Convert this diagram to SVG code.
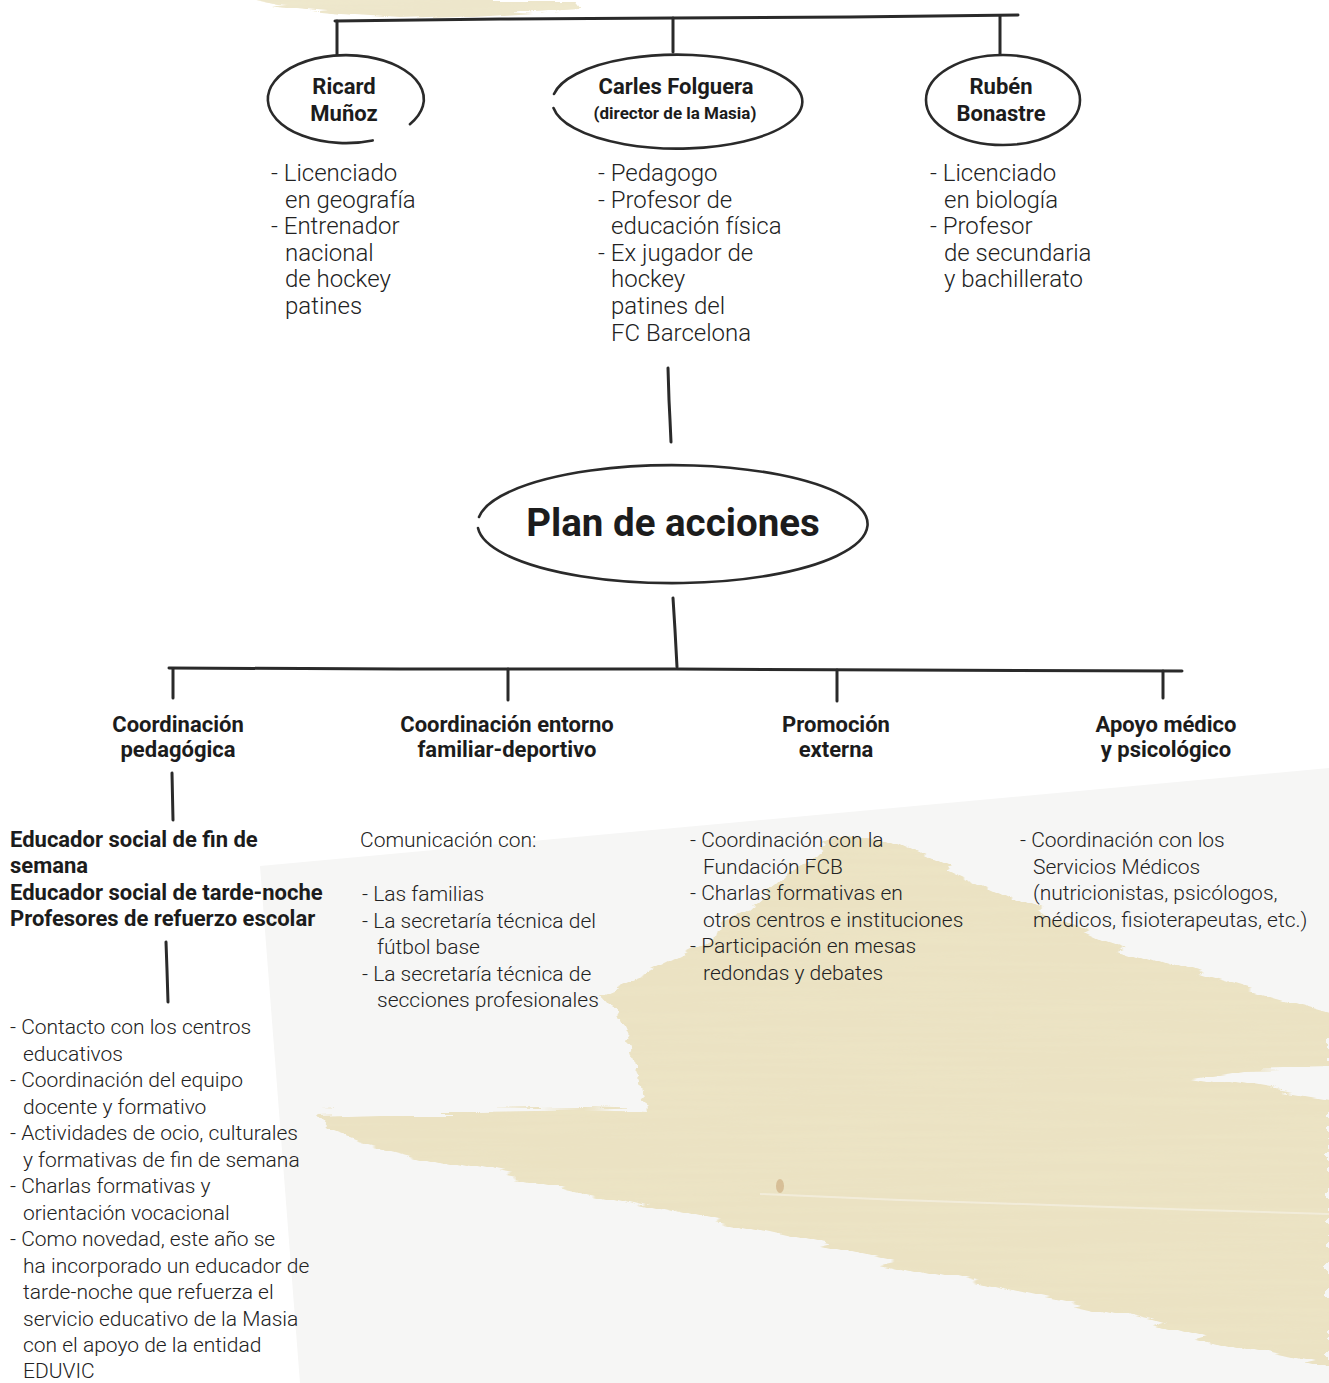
<svg xmlns="http://www.w3.org/2000/svg" width="1329" height="1383" viewBox="0 0 1329 1383">
<style>
.bg{fill:#ffffff}
.grey{fill:#f6f6f5}
.tan{fill:#ebe2c3}
.line{fill:none;stroke:#2a2a2a;stroke-width:3;stroke-linecap:round;stroke-linejoin:round}
.ell{fill:#ffffff;stroke:#2a2a2a;stroke-width:2.6;stroke-linecap:round}
.b{font-family:Roboto,"Liberation Sans",sans-serif;font-weight:700;font-size:22px;fill:#1c1c1c}
.bs{font-family:Roboto,"Liberation Sans",sans-serif;font-weight:700;font-size:17px;fill:#1c1c1c}
.title{font-family:Roboto,"Liberation Sans",sans-serif;font-weight:700;font-size:38.5px;fill:#1c1c1c}
.t{font-family:Roboto,"Liberation Sans",sans-serif;font-weight:300;font-size:24px;fill:#222222}
.s{font-family:Roboto,"Liberation Sans",sans-serif;font-weight:300;font-size:21px;fill:#222222}
.c{text-anchor:middle}
</style>
<defs>
<filter id="brush" x="-5%" y="-5%" width="110%" height="110%">
<feTurbulence type="fractalNoise" baseFrequency="0.006 0.08" numOctaves="3" seed="7" result="n"/>
<feDisplacementMap in="SourceGraphic" in2="n" scale="22" xChannelSelector="R" yChannelSelector="G" result="d"/>
<feTurbulence type="fractalNoise" baseFrequency="0.004 0.15" numOctaves="3" seed="2" result="n2"/>
<feColorMatrix in="n2" type="matrix" values="0 0 0 0 0.84  0 0 0 0 0.78  0 0 0 0 0.56  0 0 0 1.6 -0.6" result="streak"/>
<feComposite in="streak" in2="d" operator="in" result="s2"/>
<feMerge><feMergeNode in="d"/><feMergeNode in="s2"/></feMerge>
</filter>
</defs>

<g id="background">
<rect class="bg" x="0" y="0" width="1329" height="1383"/>
<polygon class="grey" points="260,866 1329,768 1329,1383 300,1383"/>
<path class="tan" filter="url(#brush)" opacity="0.85" d="M235,0 L580,0 L578,9 L520,13 L460,17 L400,19 L340,15 L280,9 Z"/>
<path class="tan" filter="url(#brush)" d="M600,992 L640,975 L700,945 L760,900 L810,858 L845,833 L880,838 L960,875 L1030,908 L1100,940 L1200,975 L1329,1013 L1329,1066 L1240,1068 L1190,1076 L1260,1088 L1329,1100 L1329,1368 L1250,1350 L1150,1322 L1000,1288 L850,1252 L700,1218 L560,1185 L440,1160 L360,1140 L330,1128 L318,1114 L380,1112 L480,1112 L580,1110 L645,1112 L640,1080 L628,1040 L612,1005 Z"/>
<path d="M760,1194 L900,1200 L1050,1205 L1200,1210 L1329,1214" fill="none" stroke="#f4efe0" stroke-width="2" opacity="0.8"/>
<ellipse cx="780" cy="1186" rx="4" ry="7" fill="#c9a77a" opacity="0.6"/>
</g>

<g id="connectors">
<path class="line" d="M335,21 L500,19 L673,18 L850,17 L1018,15"/>
<path class="line" d="M337,21 L337,56"/>
<path class="line" d="M673,18 L673,52"/>
<path class="line" d="M1000,16 L1000,56"/>
<path class="line" d="M668,368 L669,400 L670,420 L671,442" stroke-width="3.4"/>
<path class="line" d="M673,598 L675,630 L677,667" stroke-width="3.4"/>
<path class="line" d="M169,668 L400,669 L676,669 L900,670 L1182,671"/>
<path class="line" d="M173,669 L173,698"/>
<path class="line" d="M508,669 L508,700"/>
<path class="line" d="M837,670 L837,701"/>
<path class="line" d="M1163,671 L1163,698"/>
<path class="line" d="M172,773 L173,820"/>
<path class="line" d="M166,942 L167,970 L168,1002"/>
</g>

<g id="node-ricard">
<path class="ell" d="M372.7,140.4 A78,44 0 1 1 409.9,124.2"/>
<text class="b c" x="344" y="94">Ricard</text>
<text class="b c" x="344" y="121">Muñoz</text>
<text class="t" x="271" y="181">- Licenciado</text>
<text class="t" x="285" y="207.6">en geografía</text>
<text class="t" x="271" y="234.2">- Entrenador</text>
<text class="t" x="285" y="260.8">nacional</text>
<text class="t" x="285" y="287.4">de hockey</text>
<text class="t" x="285" y="314">patines</text>
</g>

<g id="node-carles">
<path class="ell" d="M553.5,108 A125,47 0 1 0 554,94" stroke-width="3"/>
<text class="b c" x="676" y="94">Carles Folguera</text>
<text class="bs c" x="675" y="119">(director de la Masia)</text>
<text class="t" x="598" y="181">- Pedagogo</text>
<text class="t" x="598" y="207.6">- Profesor de</text>
<text class="t" x="611" y="234.2">educación física</text>
<text class="t" x="598" y="260.8">- Ex jugador de</text>
<text class="t" x="611" y="287.4">hockey</text>
<text class="t" x="611" y="314">patines del</text>
<text class="t" x="611" y="340.6">FC Barcelona</text>
</g>

<g id="node-ruben">
<ellipse class="ell" cx="1003" cy="100" rx="77" ry="45"/>
<text class="b c" x="1001" y="94">Rubén</text>
<text class="b c" x="1001" y="121">Bonastre</text>
<text class="t" x="930" y="181">- Licenciado</text>
<text class="t" x="944" y="207.6">en biología</text>
<text class="t" x="930" y="234.2">- Profesor</text>
<text class="t" x="944" y="260.8">de secundaria</text>
<text class="t" x="944" y="287.4">y bachillerato</text>
</g>

<g id="node-plan">
<path class="ell" d="M478,528 A195,59 0 1 0 479,517" stroke-width="3"/>
<text class="title c" x="673" y="536">Plan de acciones</text>
</g>

<g id="node-coord-pedagogica">
<text class="b c" x="178" y="732">Coordinación</text>
<text class="b c" x="178" y="757">pedagógica</text>
</g>

<g id="node-educadores">
<text class="b" x="10" y="847">Educador social de fin de</text>
<text class="b" x="10" y="873">semana</text>
<text class="b" x="10" y="900">Educador social de tarde-noche</text>
<text class="b" x="10" y="926">Profesores de refuerzo escolar</text>
</g>

<g id="node-tareas">
<text class="s" x="10" y="1034">- Contacto con los centros</text>
<text class="s" x="23" y="1060.5">educativos</text>
<text class="s" x="10" y="1087">- Coordinación del equipo</text>
<text class="s" x="23" y="1113.5">docente y formativo</text>
<text class="s" x="10" y="1140">- Actividades de ocio, culturales</text>
<text class="s" x="23" y="1166.5">y formativas de fin de semana</text>
<text class="s" x="10" y="1193">- Charlas formativas y</text>
<text class="s" x="23" y="1219.5">orientación vocacional</text>
<text class="s" x="10" y="1246">- Como novedad, este año se</text>
<text class="s" x="23" y="1272.5">ha incorporado un educador de</text>
<text class="s" x="23" y="1299">tarde-noche que refuerza el</text>
<text class="s" x="23" y="1325.5">servicio educativo de la Masia</text>
<text class="s" x="23" y="1352">con el apoyo de la entidad</text>
<text class="s" x="23" y="1378">EDUVIC</text>
</g>

<g id="node-coord-entorno">
<text class="b c" x="507" y="732">Coordinación entorno</text>
<text class="b c" x="507" y="757">familiar-deportivo</text>
<text class="s" x="360" y="847">Comunicación con:</text>
<text class="s" x="362" y="901">- Las familias</text>
<text class="s" x="362" y="927.5">- La secretaría técnica del</text>
<text class="s" x="377" y="954">fútbol base</text>
<text class="s" x="362" y="980.5">- La secretaría técnica de</text>
<text class="s" x="377" y="1007">secciones profesionales</text>
</g>

<g id="node-promocion">
<text class="b c" x="836" y="732">Promoción</text>
<text class="b c" x="836" y="757">externa</text>
<text class="s" x="690" y="847">- Coordinación con la</text>
<text class="s" x="703" y="873.5">Fundación FCB</text>
<text class="s" x="690" y="900">- Charlas formativas en</text>
<text class="s" x="703" y="926.5">otros centros e instituciones</text>
<text class="s" x="690" y="953">- Participación en mesas</text>
<text class="s" x="703" y="979.5">redondas y debates</text>
</g>

<g id="node-apoyo">
<text class="b c" x="1166" y="732">Apoyo médico</text>
<text class="b c" x="1166" y="757">y psicológico</text>
<text class="s" x="1020" y="847">- Coordinación con los</text>
<text class="s" x="1033" y="873.5">Servicios Médicos</text>
<text class="s" x="1033" y="900">(nutricionistas, psicólogos,</text>
<text class="s" x="1033" y="926.5">médicos, fisioterapeutas, etc.)</text>
</g>
</svg>
